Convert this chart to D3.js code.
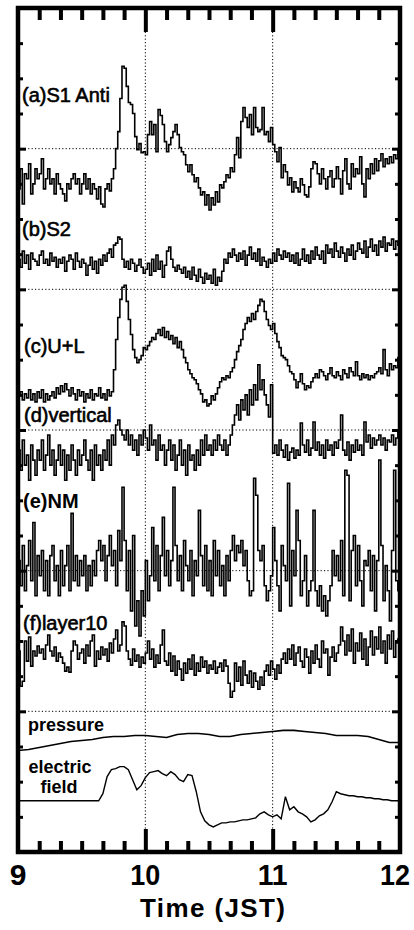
<!DOCTYPE html>
<html><head><meta charset="utf-8">
<script src="https://cdn.jsdelivr.net/npm/d3@7"></script>
<style>body{margin:0;background:#fff}svg{display:block}</style>
</head><body>
<svg id="chart" width="414" height="930"></svg>
<script>
// ---- DATA (relative deviations, units of 0.01 %, 1-minute values from 09:00 JST) ----
const xTickLabels = ["9", "10", "11", "12"];
const xTickValues = [9, 10, 11, 12];
const xTitle = "Time (JST)";
const panelLabels = ["(a)S1 Anti", "(b)S2", "(c)U+L", "(d)vertical", "(e)NM", "(f)layer10", "pressure", "electric", "field"];

const s1Anti = [
 -40,-20,-55,-25,-30,-15,-45,-35,-20,-30,
 -25,-10,-40,-30,-20,-35,-30,-45,-25,-35,
 -40,-45,-52,-35,-40,-30,-25,-35,-30,-45,
 -35,-25,-40,-30,-45,-35,-40,-50,-38,-55,
 -58,-40,-35,-42,-30,-20,0,17,50,82,
 80,62,46,44,35,12,-1,5,-4,-3,
 -6,14,27,14,24,-3,39,33,24,7,
 -3,4,11,17,24,14,1,-3,-6,-16,
 -23,-16,-26,-33,-29,-39,-46,-43,-56,-46,
 -61,-49,-56,-43,-53,-36,-39,-33,-26,-29,
 -19,-23,-6,11,-9,27,41,31,21,34,
 14,41,21,17,19,41,14,17,7,21,
 4,-3,-13,1,-29,-16,-23,-36,-29,-43,
 -33,-39,-43,-30,-36,-46,-48,-38,-20,-13,
 -15,-25,-35,-20,-30,-40,-28,-22,-38,-30,
 -18,-30,-45,-22,-10,-35,-40,-15,-28,-20,
 -25,-8,-35,-48,-20,-30,-15,-25,-10,-22,
 -12,-5,-18,-10,-15,-8,-14,-6,-10,-2];

const s2 = [
 30,22,38,26,34,20,36,30,28,24,
 34,38,26,30,24,36,28,32,22,30,
 26,32,18,28,34,30,20,36,28,22,
 30,26,14,24,32,20,28,16,30,24,
 34,28,36,40,32,44,46,52,50,30,
 22,28,20,30,26,18,24,30,22,16,
 20,26,14,30,18,34,20,28,12,24,
 38,42,30,22,18,24,20,16,22,12,
 18,10,22,14,8,20,12,6,16,10,
 14,6,20,4,12,8,18,30,26,36,
 32,40,34,28,36,30,38,24,34,42,
 30,36,28,40,24,32,28,22,30,26,
 36,28,40,34,30,38,32,36,28,34,
 26,36,24,30,40,28,34,26,38,30,
 42,34,30,38,26,44,36,40,32,46,
 38,32,42,36,28,40,34,44,30,38,
 46,40,36,48,32,42,50,38,44,34,
 48,42,52,38,46,44,50,40,48,44];

const uPlusL = [
 34,38,30,36,32,40,30,36,28,38,
 32,40,28,36,30,34,38,32,42,36,
 44,38,46,40,34,42,36,30,40,34,
 38,28,36,32,40,30,36,34,42,32,
 36,30,40,34,38,60,90,112,130,142,
 144,128,110,95,80,72,67,70,74,82,
 80,84,88,92,90,96,100,94,102,92,
 98,90,94,86,92,82,88,80,72,67,
 60,56,52,50,46,40,36,28,30,24,
 26,34,30,36,42,48,52,50,54,52,
 58,62,70,78,84,90,100,106,112,108,
 116,110,118,124,130,128,118,110,104,100,
 106,96,88,82,74,72,70,64,58,56,
 50,42,48,56,46,40,44,42,48,52,
 56,52,60,58,54,50,56,62,54,52,
 58,54,50,60,56,52,62,58,54,68,
 54,50,56,52,55,50,54,52,56,58,
 62,56,80,60,54,66,60,64,62,72];

const vertical = [
 -20,-40,-10,-35,-25,-50,-15,-30,-45,-20,
 -30,-10,-40,-25,-5,-35,-20,-45,-30,-15,
 -35,-20,-50,-25,-40,-15,-30,-45,-20,-35,
 -25,-10,-30,-40,-20,-50,-15,-35,-25,-40,
 -20,-30,-10,-35,-5,-15,5,10,0,-5,
 -10,0,-15,-5,-20,-10,-25,-5,-15,0,
 -8,-20,5,-15,-10,-30,-5,-20,-15,-35,
 -20,-10,-30,-15,-40,-25,-10,-35,-20,-45,
 -15,-30,-25,-40,-20,-35,-10,-25,-5,-20,
 -15,-25,-10,-20,-5,-15,-20,-10,-25,-15,
 -5,5,15,25,10,30,20,35,15,40,
 25,45,30,65,40,50,35,25,13,45,
 -23,-15,-25,-10,-20,-27,-15,-30,-22,-18,
 -28,-20,-25,7,-15,-22,-10,-25,-18,8,
 -20,-12,-25,-15,-28,-10,-20,-15,-25,-12,
 -18,-10,15,-20,-25,-12,-30,-15,-22,-10,
 -20,-15,-25,8,-12,-5,-18,-8,-15,-10,
 -5,-15,-8,-20,-10,-12,-5,-15,-8,0];

const neutronMonitor = [
 10,-15,25,-20,5,30,-10,48,-25,15,
 -5,20,-20,10,-25,15,25,-10,5,-25,
 20,-15,5,25,-20,57,-10,15,-15,10,
 -5,15,-20,5,-15,10,-5,20,30,10,
 25,-10,15,35,5,20,-15,40,10,83,
 30,-20,20,-40,35,-55,-30,-65,-20,-45,
 10,-30,-5,43,-10,25,-20,15,53,-5,
 20,-15,10,83,25,-10,15,-20,30,5,
 -10,20,-25,10,-5,60,15,-15,25,-20,
 10,-25,30,-5,20,-15,5,-25,15,-10,
 20,35,10,25,18,30,5,20,-10,-25,
 -20,92,75,20,10,25,-15,-30,-20,-5,
 43,10,-15,-40,25,5,-10,87,-35,20,
 -5,60,30,-25,-10,15,-35,-20,-10,60,
 -20,-35,-15,-40,-25,-45,-30,-15,20,-5,
 15,-10,30,-25,100,95,-30,20,35,-15,
 25,-10,-35,10,5,20,-20,15,-40,10,
 110,25,-30,5,-20,-50,20,100,-10,-20];

const layer10 = [
 60,25,30,70,50,74,45,60,55,65,
 58,62,52,66,76,60,55,64,50,58,
 54,48,40,44,39,60,70,66,52,58,
 62,48,66,55,70,76,45,60,52,64,
 56,62,50,68,58,72,81,60,66,89,
 85,60,52,46,62,50,56,44,54,48,
 58,70,52,62,44,56,48,66,81,50,
 46,58,40,55,36,50,42,31,48,38,
 52,42,56,36,48,40,54,44,50,38,
 46,42,50,38,44,48,40,51,45,28,
 14,20,48,30,44,26,50,36,28,40,
 24,38,30,22,34,26,40,46,36,50,
 42,32,46,38,52,58,48,62,52,66,
 46,58,64,50,44,62,54,38,60,48,
 66,52,44,70,58,62,36,54,64,50,
 58,66,84,70,56,76,60,82,48,68,
 60,78,52,72,46,64,80,56,74,62,
 84,58,70,48,76,62,80,54,68,72];

// pressure, every 5 minutes
const pressure = [
 -39,-38,-36,-34,-32,-30,-29,-28,-26,-25,-25,-24,-24,-25,-26,-23,-22,-22,-23,
 -25,-25,-23,-22,-21,-20,-19,-19,-20,-21,-22,-24,-24,-24,-25,-28,-31,-31];

// electric field, every 2 minutes
const electricField = [
 51,51,51,51,51,51,51,51,51,51,51,51,51,51,51,51,51,51,51,51,
 58,75,82,83,85,85,82,72,62,66,74,79,80,81,78,76,80,77,72,70,
 77,76,60,40,31,27,25,27,29,29,30,30,31,32,32,33,34,38,40,37,
 35,37,33,55,42,45,40,38,35,30,32,36,38,42,50,60,58,57,56,56,
 55,55,54,54,53,53,52,52,51,51,51];

// ---- CHART ----
const x = d3.scaleLinear().domain([9, 12]).range([18, 400]);
const y = d3.scaleLinear().domain([0, 840]).range([852, 8]);
const svg = d3.select("#chart");

svg.append("defs").append("clipPath").attr("id", "clip")
  .append("rect").attr("x", 18).attr("y", 8).attr("width", 382).attr("height", 844);

// dotted grid
const grid = svg.append("g").attr("stroke", "#000").attr("stroke-width", 1)
  .attr("stroke-dasharray", "1.2,2.2").attr("fill", "none");
[10, 11].forEach(t => grid.append("line").attr("x1", x(t)).attr("x2", x(t)).attr("y1", y(840)).attr("y2", y(0)));
[140, 280, 420, 560, 700].forEach(v => grid.append("line").attr("x1", x(9)).attr("x2", x(12)).attr("y1", y(v)).attr("y2", y(v)));

// series
const series = [
  {values: s1Anti, base: 700},
  {values: s2, base: 560},
  {values: uPlusL, base: 420},
  {values: vertical, base: 420},
  {values: neutronMonitor, base: 280},
  {values: layer10, base: 140}
];
const stepLine = d3.line().x(d => x(9 + d[0] / 60)).y(d => y(d[1])).curve(d3.curveStepAfter);
const plain = d3.line().x(d => x(9 + d[0] / 60)).y(d => y(d[1]));
const gData = svg.append("g").attr("clip-path", "url(#clip)");
series.forEach(s => {
  const pts = s.values.map((v, i) => [i, s.base + v]);
  pts.push([s.values.length, s.base + s.values[s.values.length - 1]]);
  gData.append("path").attr("d", stepLine(pts)).attr("fill", "none")
    .attr("stroke", "#000").attr("stroke-width", 1.6).attr("stroke-linejoin", "miter");
});
gData.append("path").attr("d", plain(pressure.map((v, i) => [i * 5, 140 + v])))
  .attr("fill", "none").attr("stroke", "#000").attr("stroke-width", 1.6);
gData.append("path").attr("d", plain(electricField.map((v, i) => [i * 2, v])))
  .attr("fill", "none").attr("stroke", "#000").attr("stroke-width", 1.4);

// ticks
const minorX = d3.range(1, 18).filter(i => i % 6 !== 0).map(i => 9 + i / 6);
const majorX = [10, 11];
function styleAxis(g, w) {
  g.select(".domain").remove();
  g.selectAll("text").remove();
  g.selectAll("line").attr("stroke", "#000").attr("stroke-width", w);
}
svg.append("g").attr("transform", "translate(0,8)")
  .call(d3.axisTop(x).tickValues(minorX).tickSize(-12)).call(g => styleAxis(g, 4));
svg.append("g").attr("transform", "translate(0,8)")
  .call(d3.axisTop(x).tickValues(majorX).tickSize(-24)).call(g => styleAxis(g, 4));
svg.append("g").attr("transform", "translate(0,852)")
  .call(d3.axisBottom(x).tickValues(minorX).tickSize(-11)).call(g => styleAxis(g, 4));
svg.append("g").attr("transform", "translate(0,852)")
  .call(d3.axisBottom(x).tickValues(majorX).tickSize(-23)).call(g => styleAxis(g, 4));
const minorY = d3.range(35, 840, 35).filter(v => v % 140 !== 0);
const majorY = [140, 280, 420, 560, 700];
svg.append("g").attr("transform", "translate(18,0)")
  .call(d3.axisLeft(y).tickValues(minorY).tickSize(-5)).call(g => styleAxis(g, 3));
svg.append("g").attr("transform", "translate(18,0)")
  .call(d3.axisLeft(y).tickValues(majorY).tickSize(-8)).call(g => styleAxis(g, 3));
svg.append("g").attr("transform", "translate(400,0)")
  .call(d3.axisRight(y).tickValues(minorY).tickSize(-5)).call(g => styleAxis(g, 3));
svg.append("g").attr("transform", "translate(400,0)")
  .call(d3.axisRight(y).tickValues(majorY).tickSize(-8)).call(g => styleAxis(g, 3));

// frame
svg.append("rect").attr("x", 18).attr("y", 8).attr("width", 382).attr("height", 844)
  .attr("fill", "none").attr("stroke", "#000").attr("stroke-width", 4.5);

// panel labels
const font = "'Liberation Sans', Arial, sans-serif";
const labelSpecs = [
  {t: panelLabels[0], x: 22, y: 101.5, w: "normal", s: 20, a: "start"},
  {t: panelLabels[1], x: 22, y: 236, w: "normal", s: 20, a: "start"},
  {t: panelLabels[2], x: 24, y: 353, w: "normal", s: 20, a: "start"},
  {t: panelLabels[3], x: 24, y: 421.5, w: "normal", s: 20, a: "start"},
  {t: panelLabels[4], x: 23, y: 508, w: "bold", s: 20, a: "start"},
  {t: panelLabels[5], x: 23, y: 630, w: "normal", s: 20, a: "start"},
  {t: panelLabels[6], x: 28, y: 731, w: "bold", s: 18, a: "start"},
  {t: panelLabels[7], x: 60, y: 772.5, w: "bold", s: 18, a: "middle"},
  {t: panelLabels[8], x: 59, y: 793, w: "bold", s: 18, a: "middle"}
];
svg.append("g").selectAll("text").data(labelSpecs).join("text")
  .attr("x", d => d.x).attr("y", d => d.y).attr("text-anchor", d => d.a)
  .attr("font-family", font).attr("font-size", d => d.s).attr("font-weight", d => d.w)
  .attr("stroke", d => d.w === "normal" ? "#000" : "none").attr("stroke-width", 0.6)
  .attr("fill", "#000").text(d => d.t);

// x tick labels and title
svg.append("g").selectAll("text").data(xTickValues).join("text")
  .attr("x", d => d === 12 ? x(d) - 5 : x(d)).attr("y", 885).attr("text-anchor", "middle")
  .attr("font-family", font).attr("font-size", 30).attr("font-weight", "bold")
  .attr("textLength", (d, i) => xTickLabels[i].length > 1 ? 30 : null)
  .attr("lengthAdjust", "spacingAndGlyphs")
  .text((d, i) => xTickLabels[i]);
svg.append("text").attr("x", 212.5).attr("y", 917).attr("text-anchor", "middle")
  .attr("font-family", font).attr("font-size", 26).attr("font-weight", "bold")
  .attr("textLength", 145).attr("lengthAdjust", "spacing").text(xTitle);
</script>
</body></html>
